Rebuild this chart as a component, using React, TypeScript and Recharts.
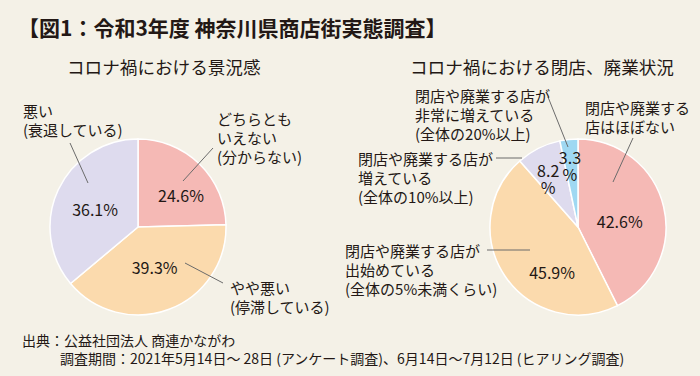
import { Cell, Pie, PieChart } from 'recharts';

// 景況感
const moodNames = ['どちらとも\nいえない\n(分からない)', 'やや悪い\n(停滞している)', '悪い\n(衰退している)'];
const moodValues = [24.6, 39.3, 36.1];
const moodColors = ['#f5b9b5', '#fbdaad', '#dedbee'];

// 閉店、廃業状況
const closureNames = [
  '閉店や廃業する\n店はほぼない',
  '閉店や廃業する店が\n出始めている\n(全体の5%未満くらい)',
  '閉店や廃業する店が\n増えている\n(全体の10%以上)',
  '閉店や廃業する店が\n非常に増えている\n(全体の20%以上)'
];
const closureValues = [42.6, 45.9, 8.2, 3.3];
const closureColors = ['#f5b9b5', '#fbdaad', '#dedbee', '#9fd8f2'];

const moodData = moodNames.map((name, i) => ({ name, value: moodValues[i] }));
const closureData = closureNames.map((name, i) => ({ name, value: closureValues[i] }));

const INK = '#231815';
const FONT = '"Noto Sans CJK JP", "Noto Sans", sans-serif';
const LINE_H = 19;
const RADIAN = Math.PI / 180;

type LabelLayout = {
  rf: number; // percent label radius factor
  da: number; // angle nudge (deg)
  split?: boolean; // value / % on two lines
  line: [number, number, number, number]; // leader line, relative to pie centre
  tx: number;
  ty: number;
};

const moodLayout: LabelLayout[] = [
  { rf: 0.61, da: -9, line: [75, -79, 45, -46], tx: 79, ty: -109 },
  { rf: 0.49, da: 2, line: [47, 36, 85, 56], tx: 92, ty: 60 },
  { rf: 0.53, da: 2, line: [-68, -84, -50, -44], tx: -115, ty: -117 }
];

const closureLayout: LabelLayout[] = [
  { rf: 0.48, da: -5, line: [55, -89, 35, -45], tx: 7, ty: -120 },
  { rf: 0.59, da: 26, line: [-91, 23, -48, 23], tx: -233, ty: 23 },
  { rf: 0.73, da: 1, split: true, line: [-82, -69, -56, -69], tx: -220, ty: -69 },
  { rf: 0.8, da: 0.6, split: true, line: [-30, -130, -10, -80], tx: -163, ty: -132 }
];

function makeLabel(layout: LabelLayout[]) {
  return (props: any) => {
    const { cx, cy, midAngle, outerRadius, index, value, payload } = props;
    const L = layout[index];
    const a = (midAngle + L.da) * RADIAN;
    const r = outerRadius * L.rf;
    const x = cx + r * Math.cos(a);
    const y = cy - r * Math.sin(a);
    const pct = Number(value).toFixed(1);
    const name: string = payload?.name ?? '';
    return (
      <g>
        {L.split ? (
          <text x={x} y={y} fill={INK} fontSize={16} fontFamily={FONT} textAnchor="middle" dominantBaseline="central">
            <tspan x={x} y={y}>{pct}</tspan>
            <tspan x={x} y={y + 17}>%</tspan>
          </text>
        ) : (
          <text x={x} y={y} fill={INK} fontSize={16} fontFamily={FONT} textAnchor="middle" dominantBaseline="central">
            {pct}%
          </text>
        )}
        <line
          x1={cx + L.line[0]}
          y1={cy + L.line[1]}
          x2={cx + L.line[2]}
          y2={cy + L.line[3]}
          stroke="#6b6b6b"
          strokeWidth={1}
        />
        <text fill={INK} fontSize={15} fontFamily={FONT} dominantBaseline="central">
          {name.split('\n').map((ln, i) => (
            <tspan key={i} x={cx + L.tx} y={cy + L.ty + i * LINE_H}>
              {ln}
            </tspan>
          ))}
        </text>
      </g>
    );
  };
}

export default function App() {
  return (
    <div style={{ position: 'relative', width: 700, height: 376, background: '#f4f1e7', fontFamily: FONT, color: INK, overflow: 'hidden' }}>
      <style>{'body{margin:0}'}</style>
      <div style={{ position: 'absolute', left: 18, top: 14, fontSize: 21, fontWeight: 700, lineHeight: '26px', whiteSpace: 'nowrap' }}>
        【図1：令和3年度 神奈川県商店街実態調査】
      </div>
      <div style={{ position: 'absolute', left: 67, top: 56, fontSize: 17.6, lineHeight: '22px', whiteSpace: 'nowrap' }}>
        コロナ禍における景況感
      </div>
      <div style={{ position: 'absolute', left: 410, top: 56, fontSize: 17.6, lineHeight: '22px', whiteSpace: 'nowrap' }}>
        コロナ禍における閉店、廃業状況
      </div>
      <div style={{ position: 'absolute', left: 0, top: 0 }}>
        <PieChart width={700} height={376} margin={{ top: 0, right: 0, bottom: 0, left: 0 }}>
          <Pie
            data={moodData}
            dataKey="value"
            nameKey="name"
            cx={138}
            cy={227}
            outerRadius={88}
            startAngle={90}
            endAngle={-270}
            stroke="#ffffff"
            strokeWidth={1.5}
            label={makeLabel(moodLayout)}
            labelLine={false}
            isAnimationActive={false}
          >
            {moodData.map((d, i) => (
              <Cell key={d.name} fill={moodColors[i]} />
            ))}
          </Pie>
          <Pie
            data={closureData}
            dataKey="value"
            nameKey="name"
            cx={578}
            cy={227}
            outerRadius={88}
            startAngle={90}
            endAngle={-270}
            stroke="#ffffff"
            strokeWidth={1.5}
            label={makeLabel(closureLayout)}
            labelLine={false}
            isAnimationActive={false}
          >
            {closureData.map((d, i) => (
              <Cell key={d.name} fill={closureColors[i]} />
            ))}
          </Pie>
        </PieChart>
      </div>
      <div style={{ position: 'absolute', left: 22, top: 331, fontSize: 14, lineHeight: '18px', whiteSpace: 'nowrap' }}>
        出典：公益社団法人 商連かながわ
      </div>
      <div style={{ position: 'absolute', left: 60, top: 349, fontSize: 14, lineHeight: '18px', whiteSpace: 'nowrap' }}>
        調査期間：2021年5月14日～ 28日 (アンケート調査)、6月14日～7月12日 (ヒアリング調査)
      </div>
    </div>
  );
}
